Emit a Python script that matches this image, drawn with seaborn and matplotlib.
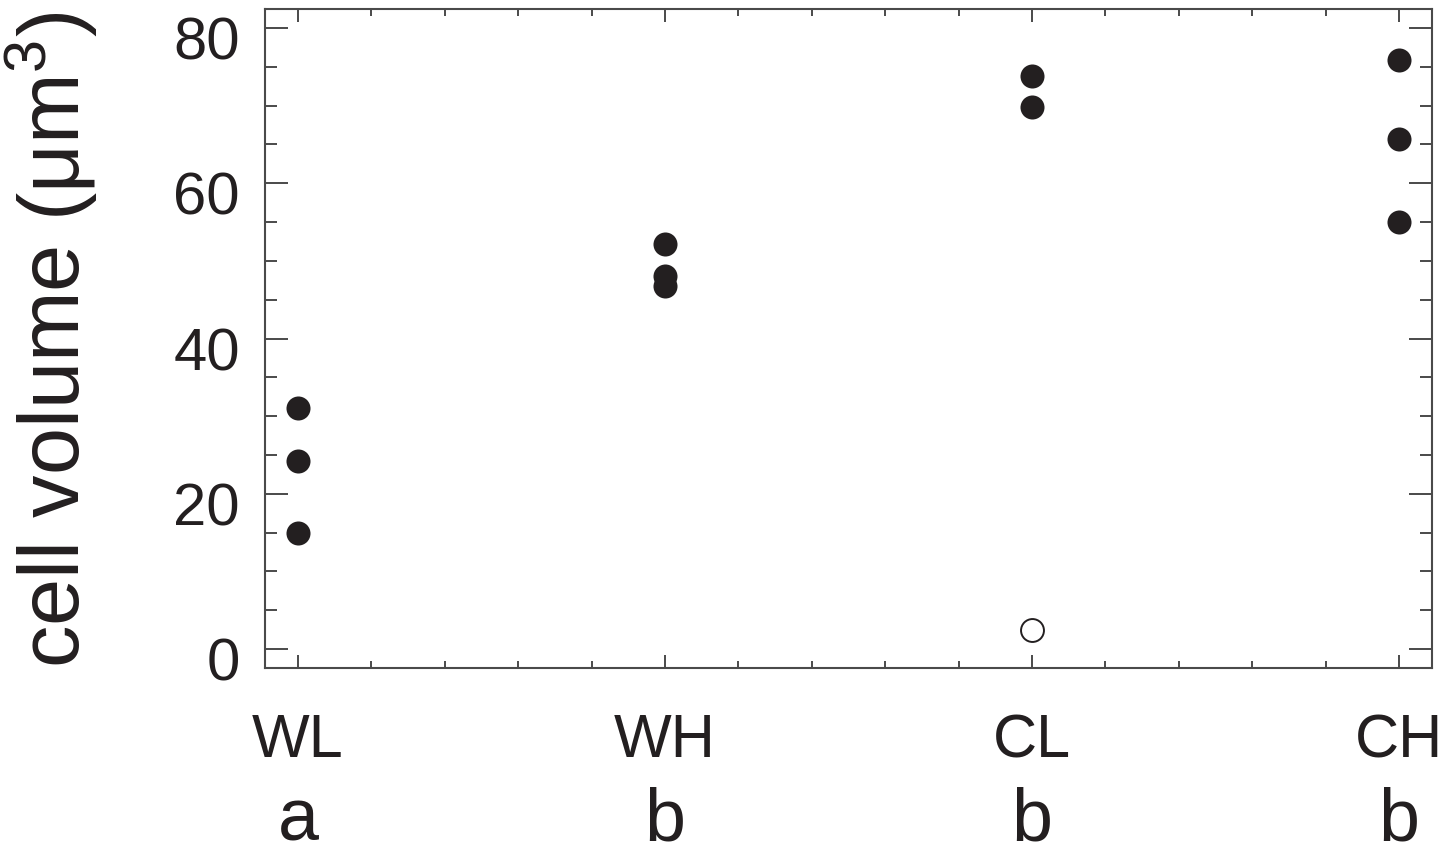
import numpy as np
import pandas as pd
import matplotlib
matplotlib.use("Agg")
import matplotlib.pyplot as plt
import matplotlib.ticker as ticker
import matplotlib.transforms as mtransforms
import seaborn as sns

# groups and significance letters
groups = ['WL', 'WH', 'CL', 'CH']
letters = ['a', 'b', 'b', 'b']

# cell volumes (um^3)
vol_WL = [31.0, 24.2, 14.9]
vol_WH = [52.2, 48.0, 46.8]
vol_CL = [73.8, 69.8]
vol_CH = [75.9, 65.7, 55.0]
# the one open symbol (CL)
outlier_group = ['CL']
outlier_vol = [2.4]

ink = '#231f20'
spine_col = '#4a4a4a'

rows = []
for g, vals in zip(groups, [vol_WL, vol_WH, vol_CL, vol_CH]):
    for v in vals:
        rows.append({'group': g, 'volume': v})
data = pd.DataFrame(rows)
outl = pd.DataFrame({'group': outlier_group, 'volume': outlier_vol})

sns.set_theme(style='ticks')
plt.rcParams['font.family'] = ['Liberation Sans', 'DejaVu Sans']
plt.rcParams['mathtext.fontset'] = 'custom'
plt.rcParams['mathtext.rm'] = 'Liberation Sans'

fig = plt.figure(figsize=(14.56, 8.54), dpi=100)
ax = fig.add_axes([0.182, 0.2166, 0.8015, 0.7717])

sns.stripplot(data=data, x='group', y='volume', order=groups, jitter=False,
              color=ink, size=17.3, linewidth=0, ax=ax)
sns.stripplot(data=outl, x='group', y='volume', order=groups, jitter=False,
              color='white', edgecolor=ink, linewidth=1.4, size=16.5, ax=ax)

ax.set_xlim(-0.09, 3.09)
ax.set_ylim(-2.45, 82.45)
ax.yaxis.set_major_locator(ticker.MultipleLocator(20))
ax.yaxis.set_minor_locator(ticker.MultipleLocator(5))
ax.xaxis.set_minor_locator(ticker.MultipleLocator(0.2))

for s in ax.spines.values():
    s.set_visible(True)
    s.set_color(spine_col)
    s.set_linewidth(1.5)

ax.tick_params(which='both', direction='in', top=True, right=True,
               color=spine_col, width=1.4, labelcolor=ink)
ax.tick_params(axis='y', which='major', length=16.5, labelsize=43, pad=18)
ax.tick_params(axis='y', which='minor', length=8.5)
ax.tick_params(axis='x', which='major', length=9.4, labelsize=44, pad=32)
ax.tick_params(axis='x', which='minor', length=5)

shift = mtransforms.ScaledTranslation(0, -0.09, fig.dpi_scale_trans)
for lab in ax.get_yticklabels():
    lab.set_transform(lab.get_transform() + shift)

ax.set_xlabel('')
ax.set_ylabel(r'cell volume (μm$^{\mathregular{3}}$)', fontsize=61, color=ink)
ax.yaxis.set_label_coords(-0.141, 0.5)

# significance letters under the group names
for i, l in enumerate(letters):
    ax.text(i, -0.2825, l, transform=ax.get_xaxis_transform(), ha='center',
            va='bottom', fontsize=53, color=ink)

plt.savefig('out.png', dpi=100)
